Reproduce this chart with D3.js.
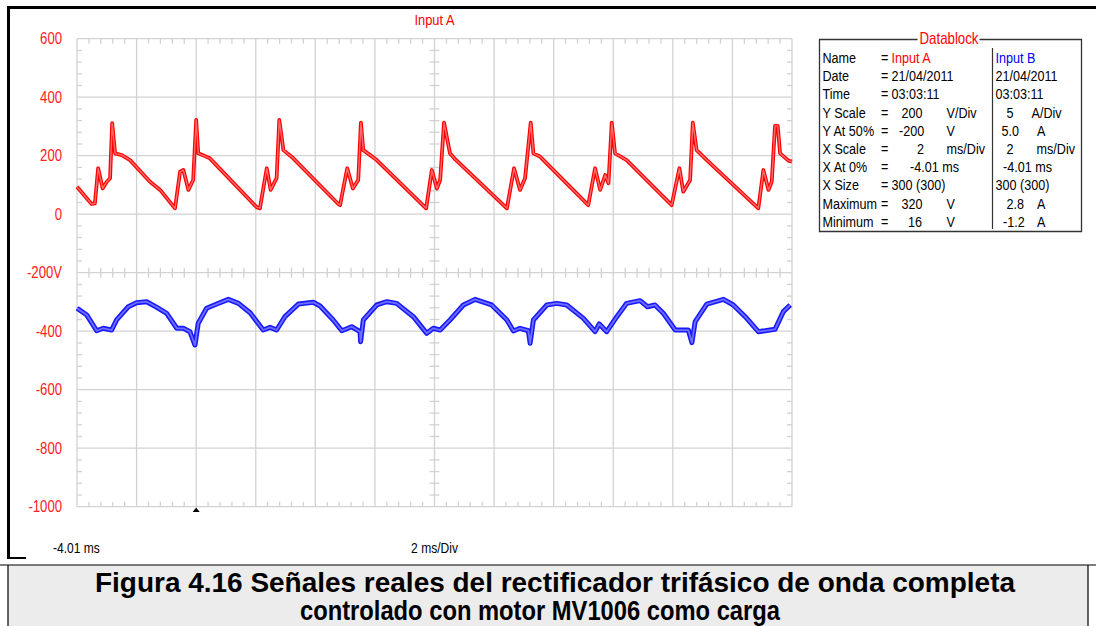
<!DOCTYPE html>
<html><head><meta charset="utf-8">
<script src="https://cdn.jsdelivr.net/npm/d3@7"></script>
<style>
html,body{margin:0;padding:0;background:#fff;}
svg{display:block;}
text{font-family:'Liberation Sans',Arial,sans-serif;}
</style></head>
<body>
<svg id="c" width="1096" height="626"></svg>
<script>
// ---- data ----
const xDivisionsMs = [-4.01, -2.01, -0.01, 1.99, 3.99, 5.99, 7.99, 9.99, 11.99, 13.99, 15.99, 17.99, 19.99];
const yTicksV = [600, 400, 200, 0, -200, -400, -600, -800, -1000];
const yTickLabels = ["600", "400", "200", "0", "-200V", "-400", "-600", "-800", "-1000"];
// Input A (voltage, V) : time ms / value
const inputA_t = [-4.01,-3.52,-3.41,-3.30,-3.15,-3.01,-2.90,-2.83,-2.73,-2.51,-2.23,-1.56,-1.22,-0.72,-0.55,-0.44,-0.27,-0.11,-0.01,0.06,0.45,2.02,2.13,2.36,2.49,2.69,2.78,2.92,3.25,4.76,4.82,5.06,5.25,5.43,5.52,5.60,5.83,6.05,7.71,7.90,8.07,8.18,8.31,8.51,8.68,10.42,10.66,10.86,11.03,11.22,11.31,11.53,13.15,13.38,13.55,13.72,13.83,13.94,14.05,14.44,15.95,16.21,16.34,16.57,16.66,16.79,17.13,18.86,19.03,19.20,19.31,19.42,19.51,19.59,19.87,19.99];
const inputA_v = [94,35,37,157,88,111,123,311,208,202,185,111,83,20,145,151,83,117,322,208,191,24,20,157,83,123,322,219,191,35,31,157,88,117,313,219,202,185,20,151,88,117,313,208,188,20,157,83,123,313,208,197,31,157,83,134,106,313,208,185,31,157,77,117,313,219,185,20,151,83,111,302,302,208,183,180];
// Input B (current, A)
const inputB_t = [-4.01,-3.68,-3.35,-3.13,-2.85,-2.68,-2.29,-2.01,-1.67,-1.33,-1.00,-0.66,-0.44,-0.22,-0.05,0.06,0.34,0.68,1.07,1.41,1.80,2.24,2.47,2.69,2.97,3.42,3.92,4.15,4.59,4.88,5.21,5.49,5.51,5.60,6.05,6.39,6.72,7.28,7.73,7.95,8.18,8.51,8.96,9.35,9.91,10.42,10.64,10.86,11.14,11.20,11.31,11.76,12.09,12.43,12.99,13.38,13.52,13.77,14.11,14.44,14.89,15.14,15.39,15.67,16.07,16.51,16.63,16.74,17.13,17.69,18.02,18.42,18.86,19.25,19.42,19.70,19.93];
const inputB_a = [1.96,1.38,0.04,0.25,0.10,0.96,2.09,2.44,2.52,2.04,1.53,0.25,0.25,-0.04,-1.18,0.68,1.96,2.32,2.72,2.38,1.58,0.10,0.33,0.10,1.24,2.32,2.47,2.15,0.96,0.04,0.38,-0.04,-0.90,0.96,2.24,2.52,2.38,1.24,-0.18,0.25,0.10,0.96,2.24,2.72,2.24,0.96,0.02,0.25,0.04,-1.03,0.96,2.24,2.38,2.24,1.10,-0.04,0.62,-0.04,1.24,2.38,2.61,2.09,2.24,1.53,0.10,0.10,-0.98,0.81,2.32,2.72,2.24,1.24,-0.04,0.10,0.16,1.67,2.24];
// Datablock rows
const dbLabels = ["Name","Date","Time","Y Scale","Y At 50%","X Scale","X At 0%","X Size","Maximum","Minimum"];
const dbA = ["Input A","21/04/2011","03:03:11","200","-200","2","-4.01 ms","300 (300)","320","16"];
const dbAUnit = ["","","","V/Div","V","ms/Div","","","V","V"];
const dbB = ["Input B","21/04/2011","03:03:11","5","5.0","2","-4.01 ms","300 (300)","2.8","-1.2"];
const dbBUnit = ["","","","A/Div","A","ms/Div","","","A","A"];
const captionLines = ["Figura 4.16  Señales reales del rectificador trifásico de onda completa","controlado con motor MV1006 como carga"];

// ---- drawing ----
const svg = d3.select("#c");
const L = 77, R = 792, T = 38.7, B = 506.7;
const x = d3.scaleLinear().domain([-4.01, 19.99]).range([L, R]);
const yA = d3.scaleLinear().domain([-1000, 600]).range([B, T]);
const yB = d3.scaleLinear().domain([-15, 25]).range([B, T]);
const grid = "#d2d2d2";

// narrow text helper (horizontal compression)
function nt(parent, px, py, str, size, sx, anchor, fill) {
  const gg = parent.append("g").attr("transform", `translate(${px},${py}) scale(${sx},1)`);
  return gg.append("text").attr("x",0).attr("y",0).attr("dy","0.36em").attr("font-size",size)
    .attr("text-anchor",anchor||"start").attr("fill",fill||"#000").text(str);
}

// outer frame
svg.append("rect").attr("x",0).attr("y",0).attr("width",1096).attr("height",626).attr("fill","#fff");
svg.append("path").attr("d","M8.5,558 V7.5 H1096").attr("fill","none").attr("stroke","#000").attr("stroke-width",3);
svg.append("line").attr("x1",7).attr("x2",26).attr("y1",558).attr("y2",558).attr("stroke","#000").attr("stroke-width",2);

// grid
const g = svg.append("g");
xDivisionsMs.forEach(d => g.append("line").attr("x1",x(d)).attr("x2",x(d)).attr("y1",T).attr("y2",B).attr("stroke",grid).attr("stroke-width",1.3));
yTicksV.forEach(d => g.append("line").attr("x1",L).attr("x2",R).attr("y1",yA(d)).attr("y2",yA(d)).attr("stroke",grid).attr("stroke-width",1.3));
// minor ticks
const minorX = d3.range(0, 61).map(i => -4.01 + i * 0.4).filter((d,i)=> i%5!==0);
const minorY = d3.range(0, 41).map(i => 600 - i * 40).filter((d,i)=> i%5!==0);
const tk = 5;
minorX.forEach(d => {
  const px = x(d);
  g.append("line").attr("x1",px).attr("x2",px).attr("y1",T).attr("y2",T+tk).attr("stroke",grid).attr("stroke-width",1.3);
  g.append("line").attr("x1",px).attr("x2",px).attr("y1",B).attr("y2",B-tk).attr("stroke",grid).attr("stroke-width",1.3);
  g.append("line").attr("x1",px).attr("x2",px).attr("y1",yA(-200)-tk).attr("y2",yA(-200)+tk).attr("stroke",grid).attr("stroke-width",1.3);
});
minorY.forEach(d => {
  const py = yA(d);
  g.append("line").attr("x1",L).attr("x2",L+tk).attr("y1",py).attr("y2",py).attr("stroke",grid).attr("stroke-width",1.3);
  g.append("line").attr("x1",R).attr("x2",R-tk).attr("y1",py).attr("y2",py).attr("stroke",grid).attr("stroke-width",1.3);
  g.append("line").attr("x1",x(7.99)-tk).attr("x2",x(7.99)+tk).attr("y1",py).attr("y2",py).attr("stroke",grid).attr("stroke-width",1.3);
});

// y labels
yTicksV.forEach((d,i) => nt(svg, 62, yA(d), yTickLabels[i], 16, 0.82, "end", "#ff2020"));

// traces
const lineA = d3.line().x((d,i)=>x(inputA_t[i])).y((d,i)=>yA(inputA_v[i]));
const lineB = d3.line().x((d,i)=>x(inputB_t[i])).y((d,i)=>yB(inputB_a[i]));
svg.append("path").attr("d", lineB(inputB_a)).attr("fill","none").attr("stroke","#1a1aff").attr("stroke-width",5).attr("stroke-linejoin","round");
svg.append("path").attr("d", lineB(inputB_a)).attr("fill","none").attr("stroke","#6e6eff").attr("stroke-width",1.8).attr("stroke-linejoin","round");
svg.append("path").attr("d", lineA(inputA_v)).attr("fill","none").attr("stroke","#ff0000").attr("stroke-width",3.8).attr("stroke-linejoin","round");
svg.append("path").attr("d", lineA(inputA_v)).attr("fill","none").attr("stroke","#ff6a6a").attr("stroke-width",1.4).attr("stroke-linejoin","round");

// titles
nt(svg, (L+R)/2, 20, "Input A", 15, 0.86, "middle", "#ff0000");
nt(svg, 53, 548, "-4.01 ms", 14, 0.86, "start", "#000");
nt(svg, (L+R)/2, 548, "2 ms/Div", 14, 0.86, "middle", "#000");
// trigger marker
svg.append("path").attr("d",`M${x(-0.01)-3.5},512 L${x(-0.01)},507.5 L${x(-0.01)+3.5},512 Z`).attr("fill","#000");

// datablock
const db = svg.append("g");
const bx0 = 819.5, bx1 = 1081.5, by0 = 39.5, by1 = 231.5;
db.append("path").attr("d",`M${bx0+98},${by0} H${bx0} V${by1} H${bx1} V${by0} H${bx0+160}`).attr("fill","none").attr("stroke","#333").attr("stroke-width",1.3);
nt(db, 949, by0-1, "Datablock", 16, 0.83, "middle", "#ff0000");
db.append("line").attr("x1",992.5).attr("x2",992.5).attr("y1",48).attr("y2",229).attr("stroke","#333").attr("stroke-width",1.2);
const rowY = i => 57.5 + i * 18.2;
const fs = 15, sx = 0.84;
const aX = [891.5,891.5,891.5,901.5,899,917,910,891.5,901.5,908];
const bX = [995.5,995.5,995.5,1006.5,1001.5,1006.5,1003,995.5,1006.5,1003];
const bUX = [0,0,0,1031.5,1037,1036.5,0,0,1037,1037];
dbLabels.forEach((s,i)=>{
  const yy = rowY(i);
  nt(db, 822.5, yy, s, fs, sx);
  nt(db, 881, yy, "=", fs, sx);
  nt(db, aX[i], yy, dbA[i], fs, sx, "start", i===0?"#ff0000":"#000");
  if (dbAUnit[i]) nt(db, 946.5, yy, dbAUnit[i], fs, sx);
  nt(db, bX[i], yy, dbB[i], fs, sx, "start", i===0?"#0000ff":"#000");
  if (dbBUnit[i]) nt(db, bUX[i], yy, dbBUnit[i], fs, sx);
});

// caption
svg.append("rect").attr("x",8).attr("y",565).attr("width",1080).attr("height",62).attr("fill","#ececec");
svg.append("line").attr("x1",0).attr("x2",1096).attr("y1",565).attr("y2",565).attr("stroke","#000").attr("stroke-width",1.2);
svg.append("line").attr("x1",8).attr("x2",8).attr("y1",565).attr("y2",626).attr("stroke","#000").attr("stroke-width",1.2);
svg.append("line").attr("x1",1088).attr("x2",1088).attr("y1",565).attr("y2",626).attr("stroke","#000").attr("stroke-width",1.2);
svg.append("text").attr("x",555).attr("y",592).attr("text-anchor","middle")
  .attr("font-weight","bold").attr("font-size",28).attr("textLength",920).attr("lengthAdjust","spacingAndGlyphs").text(captionLines[0]);
svg.append("text").attr("x",540).attr("y",620).attr("text-anchor","middle")
  .attr("font-weight","bold").attr("font-size",28).attr("textLength",480).attr("lengthAdjust","spacingAndGlyphs").text(captionLines[1]);
</script>
</body></html>
